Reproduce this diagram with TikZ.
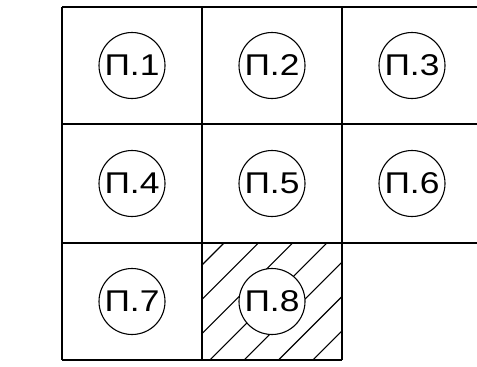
\documentclass[tikz,border=0pt]{standalone}
\usepackage{fontspec}
\newfontfamily\lblfont[FakeStretch=1.18]{Liberation Sans}
\begin{document}
\begin{tikzpicture}[x=1pt,y=-1pt,
  gridline/.style={line width=1.7pt},
  hatchline/.style={line width=1.1pt},
  mark circle/.style={circle, draw, line width=1.1pt, fill=white, minimum size=66pt, inner sep=0pt,
     font=\lblfont\fontsize{30}{30}\selectfont}]
\useasboundingbox (0,0) rectangle (477,367);
% hatching of cell 8
\begin{scope}
  \clip (202,243) rectangle (342,360);
  \foreach \s in {467,501.3,535.6,569.9,604.2,638.5,672.8}{
    \draw[hatchline] ({\s-380},380) -- ({\s-200},200);
  }
\end{scope}
% grid
\draw[gridline] (62,7) -- (477,7);
\draw[gridline] (62,124) -- (477,124);
\draw[gridline] (62,243) -- (477,243);
\draw[gridline] (62,360) -- (342,360);
\draw[gridline] (62,7) -- (62,360);
\draw[gridline] (202,7) -- (202,360);
\draw[gridline] (342,7) -- (342,360);
% marks
\node[mark circle] (p1) at (132,65.5) {П.1};
\node[mark circle] (p2) at (272,65.5) {П.2};
\node[mark circle] (p3) at (412,65.5) {П.3};
\node[mark circle] (p4) at (132,183.5) {П.4};
\node[mark circle] (p5) at (272,183.5) {П.5};
\node[mark circle] (p6) at (412,183.5) {П.6};
\node[mark circle] (p7) at (132,301.5) {П.7};
\node[mark circle] (p8) at (272,301.5) {П.8};
\end{tikzpicture}
\end{document}
